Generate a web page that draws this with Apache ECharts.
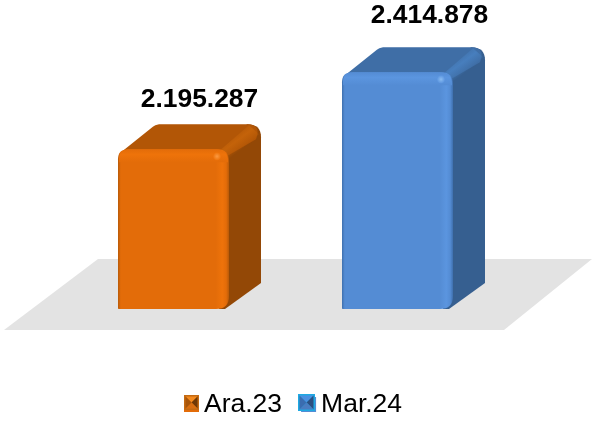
<!DOCTYPE html>
<html><head><meta charset="utf-8">
<style>html,body{margin:0;padding:0;background:#fff}#c{width:592px;height:422px}</style>
<script src="https://cdn.jsdelivr.net/npm/echarts@6/dist/echarts.min.js"></script>
</head><body><div id="c"></div>
<script>
var categories = ['Ara.23', 'Mar.24'];
var values = [2195287, 2414878];
var tones = [
  {front:'#e36c09', light:'#ee730a', shade:'#b85a08', top:'#b25606', ridge:'rgba(198,100,10,0.9)', ridgeOff:'rgba(198,100,10,0)', side:'#934806', glow:'#fb9a42',
   iconEdge:'#c46a12', iconTop:'#f48a1e', iconLeft:'#a85509', iconRight:'#6f3805', iconBottom:'#d96e10', labelDx:26, labelDy:-50},
  {front:'#548cd4', light:'#5b95df', shade:'#3f70ae', top:'#3f6ea6', ridge:'rgba(72,128,192,0.9)', ridgeOff:'rgba(72,128,192,0)', side:'#365f90', glow:'#8abcf2',
   iconEdge:'#1fa9e2', iconTop:'#4a90e0', iconLeft:'#3a6cb0', iconRight:'#2c4f80', iconBottom:'#4a7cc0', labelDx:32, labelDy:-57}
];
var barWidth = 111, depthX = 32, depthY = 25;

function fmt(v){ return String(v).replace(/\B(?=(\d{3})+$)/g, '.'); }
function rounded(pts){
  var out = [];
  pts.forEach(function(p, i){
    var r = p[2] || 0, a = pts[(i + pts.length - 1) % pts.length], b = pts[(i + 1) % pts.length];
    if (!r) { out.push([p[0], p[1]]); return; }
    var la = Math.hypot(a[0]-p[0], a[1]-p[1]), lb = Math.hypot(b[0]-p[0], b[1]-p[1]);
    var s = [p[0]+(a[0]-p[0])*r/la, p[1]+(a[1]-p[1])*r/la], e = [p[0]+(b[0]-p[0])*r/lb, p[1]+(b[1]-p[1])*r/lb];
    for (var t = 0; t <= 1.0001; t += 0.125) {
      var u = 1 - t;
      out.push([u*u*s[0]+2*u*t*p[0]+t*t*e[0], u*u*s[1]+2*u*t*p[1]+t*t*e[1]]);
    }
  });
  return out;
}
function lin(x1,y1,x2,y2,stops){
  return {type:'linear', x:x1, y:y1, x2:x2, y2:y2, colorStops:stops.map(function(s){return {offset:s[0], color:s[1]};})};
}
function renderBar(params, api){
  var idx = api.value(0), c = tones[idx];
  var top = api.coord([idx, api.value(1)]);
  var base = api.coord([idx, api.value(2)]);
  var xl = top[0] - barWidth/2, xr = xl + barWidth, yt = top[1], yb = base[1];
  var kids = [];
  kids.push({type:'polygon', shape:{points:rounded([[xr-9,yt+2],[xr+depthX-14,yt-depthY],[xr+depthX,yt-depthY,13],[xr+depthX,yb-depthY-1],[xr-4,yb],[xr-10,yb]])}, style:{fill:c.side}});
  kids.push({type:'polygon', shape:{points:rounded([[xl+3,yt+3],[xl+38,yt-depthY,4],[xr+depthX,yt-depthY,14],[xr+depthX-5,yt-depthY+15],[xr-4,yt+8],[xr-10,yt+6]])}, style:{fill:c.top}});
  kids.push({type:'polygon', shape:{points:[[xr-9,yt+1],[xr+depthX-12,yt-depthY+1],[xr+depthX-2,yt-depthY+10],[xr+1,yt+11]]},
    style:{fill:lin(0.42,0.1,0.72,0.55,[[0,c.ridgeOff],[0.5,c.ridge],[1,c.ridgeOff]])}});
  var frontPts = rounded([[xl,yt,10],[xr,yt,12],[xr,yb,13],[xl,yb,1]]);
  kids.push({type:'polygon', shape:{points:frontPts}, style:{fill:lin(0,0,1,0,[[0,c.shade],[0.025,c.front],[0.88,c.front],[0.94,c.light],[0.975,c.front],[1,c.shade]])}});
  kids.push({type:'polygon', shape:{points:rounded([[xl+1,yt,10],[xr-1,yt,12],[xr-1,yt+13],[xl+1,yt+13]])},
    style:{fill:lin(0,0,0,1,[[0,c.front],[0.4,c.light],[1,c.front]])}});
  kids.push({type:'circle', shape:{cx:xr-12, cy:yt+7, r:4}, style:{fill:{type:'radial',x:0.5,y:0.5,r:0.5,colorStops:[{offset:0,color:c.glow},{offset:1,color:c.light}]}}});
  kids.push({type:'text', style:{text:fmt(api.value(1)), x:top[0]+c.labelDx, y:yt+c.labelDy, align:'center', verticalAlign:'middle',
    font:'bold 26.4px "Liberation Sans", Arial, sans-serif', fill:'#000'}});
  return {type:'group', children:kids};
}
function bevel(x, y, w, h, c){
  var e = 1.5, x1 = x+e, y1 = y+e, x2 = x+w-e, y2 = y+h-e, cx = x+w/2, cy = y+h/2;
  var tri = function(p, f){ return {type:'polygon', z:20, silent:true, shape:{points:p}, style:{fill:f}}; };
  return [
    {type:'rect', z:20, silent:true, shape:{x:x,y:y,width:w,height:h}, style:{fill:c.iconEdge}},
    tri([[x1,y1],[x2,y1],[cx,cy]], c.iconTop),
    tri([[x2,y1],[x2,y2],[cx,cy]], c.iconRight),
    tri([[x2,y2],[x1,y2],[cx,cy]], c.iconBottom),
    tri([[x1,y2],[x1,y1],[cx,cy]], c.iconLeft)
  ];
}
var minValue = 1740000, maxValue = 2600000;
var series = categories.map(function(name, i){
  return {name:name, type:'custom', renderItem:renderBar, coordinateSystem:'cartesian2d', clip:false,
    itemStyle:{color:tones[i].front}, encode:{x:0, y:1}, data:[[i, values[i], minValue]], z:3};
});
var chart = echarts.init(document.getElementById('c'), null, {renderer:'canvas'});
chart.setOption({
  animation:false,
  grid:{left:61.5, width:448, top:7.4, height:301.6},
  xAxis:{type:'category', data:categories.map(function(c,i){return i;}), show:false},
  yAxis:{type:'value', min:minValue, max:maxValue, show:false},
  legend:{data:categories, left:179, top:386, itemWidth:15, itemHeight:15, itemGap:19, icon:'rect',
    textStyle:{fontFamily:'"Liberation Sans", Arial, sans-serif', fontSize:26.5, color:'#000'}},
  graphic:{elements:[
    {type:'polygon', z:0, silent:true, shape:{points:[[4,330],[98,259],[592,259],[504,330]]}, style:{fill:'#e3e3e3'}}
  ].concat(bevel(184,395,15,15,tones[0]), bevel(298,394,17,17,tones[1]))},
  series:series
});
</script></body></html>
